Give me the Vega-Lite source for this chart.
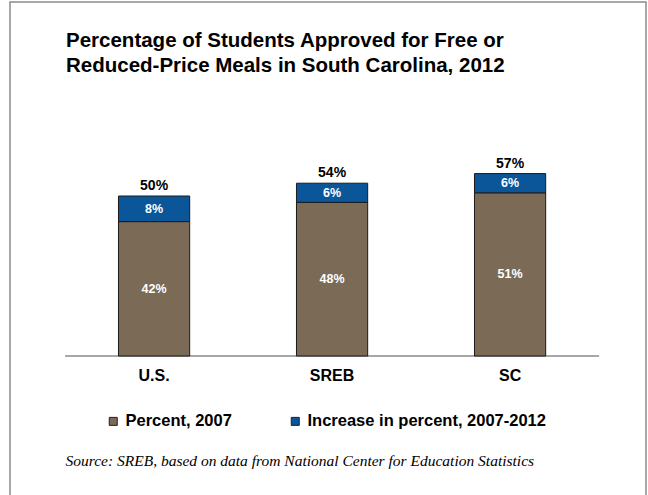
{
  "$schema": "https://vega.github.io/schema/vega-lite/v6.json",
  "autosize": "none",
  "width": 636,
  "height": 497,
  "padding": {"left": 10, "top": 2, "right": 2, "bottom": -4},
  "background": "white",
  "config": {
    "view": {"stroke": "#8c8c8c", "strokeWidth": 1.5},
    "font": "Liberation Sans"
  },
  "title": {
    "text": ["Percentage of Students Approved for Free or", "Reduced-Price Meals in South Carolina, 2012"],
    "anchor": "start",
    "frame": "group",
    "orient": "top",
    "offset": -90,
    "dx": 56,
    "baseline": "alphabetic",
    "lineHeight": 25,
    "fontSize": 20.5,
    "fontWeight": "bold",
    "color": "#000000",
    "font": "Liberation Sans"
  },
  "datasets": {
    "bars": [
      {"region": "U.S.", "series": "Percent, 2007", "value": 0.42},
      {"region": "U.S.", "series": "Increase in percent, 2007-2012", "value": 0.08},
      {"region": "SREB", "series": "Percent, 2007", "value": 0.48},
      {"region": "SREB", "series": "Increase in percent, 2007-2012", "value": 0.06},
      {"region": "SC", "series": "Percent, 2007", "value": 0.51},
      {"region": "SC", "series": "Increase in percent, 2007-2012", "value": 0.06}
    ],
    "axisline": [{"from": "U.S.", "to": "SC"}]
  },
  "layer": [
    {
      "data": {"name": "axisline"},
      "mark": {"type": "rule", "color": "#8a8a8a", "strokeWidth": 1.5},
      "encoding": {
        "x": {
          "field": "from", "type": "nominal", "bandPosition": 0,
          "scale": {"domain": ["U.S.", "SREB", "SC"], "paddingInner": 0, "paddingOuter": 0.2865, "align": 0.54},
          "axis": {
            "orient": "bottom", "offset": -143, "domain": false, "ticks": false, "tickSize": 0,
            "labelPadding": 11, "labelFont": "Liberation Sans", "labelFontSize": 16, "labelFontWeight": "bold",
            "labelColor": "#000000", "labelAngle": 0, "grid": false,
            "title": "Source: SREB, based on data from National Center for Education Statistics",
            "titleFont": "Liberation Serif", "titleFontStyle": "italic", "titleFontWeight": "normal",
            "titleFontSize": 15.5, "titleColor": "#000000", "titleAnchor": "start", "titleAlign": "left",
            "titleBaseline": "alphabetic", "titleX": 55, "titleY": 109
          }
        },
        "x2": {"field": "to", "bandPosition": 1},
        "y": {"datum": 0, "type": "quantitative",
          "scale": {"domain": [-0.446875, 1.10625], "nice": false, "zero": false},
          "axis": null}
      }
    },
    {
      "data": {"name": "bars"},
      "transform": [
        {"stack": "value", "groupby": ["region"], "sort": [{"field": "series", "order": "descending"}], "as": ["v0", "v1"]}
      ],
      "mark": {"type": "bar", "width": {"band": 0.4}, "stroke": "#1a1a1a", "strokeWidth": 1},
      "encoding": {
        "x": {"field": "region", "type": "nominal"},
        "y": {"field": "v0", "type": "quantitative"},
        "y2": {"field": "v1"},
        "color": {
          "field": "series", "type": "nominal",
          "scale": {"domain": ["Percent, 2007", "Increase in percent, 2007-2012"], "range": ["#7b6a56", "#0b5599"]},
          "legend": {
            "orient": "none", "legendX": 95, "legendY": 411, "direction": "horizontal", "title": null,
            "symbolType": "square", "symbolSize": 64, "symbolStrokeColor": "#222222", "symbolStrokeWidth": 1,
            "symbolOpacity": 1,
            "labelFont": "Liberation Sans", "labelFontSize": 16.5, "labelFontWeight": "bold", "labelColor": "#000000",
            "columnPadding": 55, "labelOffset": 4, "padding": 0, "labelLimit": 400
          }
        }
      }
    },
    {
      "data": {"name": "bars"},
      "transform": [
        {"stack": "value", "groupby": ["region"], "sort": [{"field": "series", "order": "descending"}], "as": ["v0", "v1"]},
        {"calculate": "(datum.v0 + datum.v1) / 2", "as": "mid"}
      ],
      "mark": {"type": "text", "color": "#ffffff", "fontSize": 12.5, "fontWeight": "bold", "baseline": "middle", "font": "Liberation Sans"},
      "encoding": {
        "x": {"field": "region", "type": "nominal"},
        "y": {"field": "mid", "type": "quantitative"},
        "text": {"field": "value", "type": "quantitative", "format": ".0%"}
      }
    },
    {
      "data": {"name": "bars"},
      "transform": [
        {"aggregate": [{"op": "sum", "field": "value", "as": "total"}], "groupby": ["region"]}
      ],
      "mark": {"type": "text", "color": "#000000", "fontSize": 14, "fontWeight": "bold", "baseline": "alphabetic", "dy": -6, "font": "Liberation Sans"},
      "encoding": {
        "x": {"field": "region", "type": "nominal"},
        "y": {"field": "total", "type": "quantitative"},
        "text": {"field": "total", "type": "quantitative", "format": ".0%"}
      }
    }
  ]
}
